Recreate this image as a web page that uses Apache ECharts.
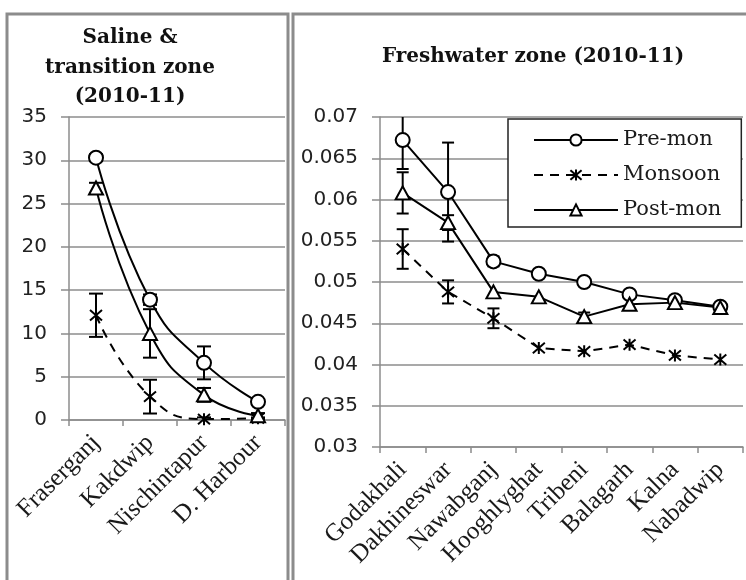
<!DOCTYPE html>
<html>
<head>
<meta charset="utf-8">
<script src="https://cdn.jsdelivr.net/npm/echarts@6/dist/echarts.min.js"></script>
<style>html,body{margin:0;padding:0;background:#fff;}#c{width:746px;height:580px;}</style>
</head>
<body>
<div id="c"></div>
<script>
// ---- data ----
var leftCats = ['Fraserganj', 'Kakdwip', 'Nischintapur', 'D. Harbour'];
var leftPre = [30.3, 13.9, 6.6, 2.1];
var leftPreErr = [0.4, 0.6, 1.9, 0.3];
var leftMon = [12.1, 2.7, 0.1, 0.2];
var leftMonErr = [2.5, 1.95, 0.2, 0.1];
var leftPost = [26.8, 10.0, 2.9, 0.5];
var leftPostErr = [0.6, 2.8, 0.8, 0.3];

var rightCats = ['Godakhali', 'Dakhineswar', 'Nawabganj', 'Hooghlyghat', 'Tribeni', 'Balagarh', 'Kalna', 'Nabadwip'];
var rightPre = [0.0672, 0.0609, 0.0525, 0.0510, 0.0500, 0.0485, 0.0478, 0.0470];
var rightPreErr = [0.0035, 0.006, 0.0006, 0, 0, 0, 0, 0];
var rightMon = [0.0540, 0.0488, 0.0456, 0.0420, 0.0416, 0.0424, 0.0411, 0.0406];
var rightMonErr = [0.0024, 0.0014, 0.0012, 0, 0, 0, 0, 0];
var rightPost = [0.0608, 0.0572, 0.0488, 0.0482, 0.0458, 0.0473, 0.0475, 0.0469];
var rightPostErr = [0.0025, 0.0009, 0, 0, 0.0005, 0, 0, 0];

var leftTicks = {min: 0, max: 35, interval: 5};
var rightTicks = {min: 0.03, max: 0.07, interval: 0.005};

var seriesNames = ['Pre-mon', 'Monsoon', 'Post-mon'];

// ---- styles ----
var gray = '#8c8c8c';
var starPath = 'path://M0 0 L12 12 M12 0 L0 12 M6 -1 L6 13';

function errData(vals, errs) {
  return vals.map(function (v, i) { return [i, v, errs[i]]; });
}

function errSeries(vals, errs, axisIdx, cap) {
  return {
    type: 'custom',
    xAxisIndex: axisIdx, yAxisIndex: axisIdx,
    z: 1,
    silent: true,
    data: errData(vals, errs),
    encode: {x: 0, y: 1},
    renderItem: function (params, api) {
      var i = api.value(0), v = api.value(1), e = api.value(2);
      if (!e) return null;
      var cs = params.coordSys;
      var hi = api.coord([i, v + e]);
      var lo = api.coord([i, v - e]);
      var top = Math.max(hi[1], cs.y);
      var bot = Math.min(lo[1], cs.y + cs.height);
      var x = hi[0];
      var children = [{
        type: 'line', shape: {x1: x, y1: top, x2: x, y2: bot},
        style: {stroke: '#000', lineWidth: 2}
      }];
      if (hi[1] >= cs.y) children.push({type: 'line', shape: {x1: x - cap, y1: hi[1], x2: x + cap, y2: hi[1]}, style: {stroke: '#000', lineWidth: 2}});
      if (lo[1] <= cs.y + cs.height) children.push({type: 'line', shape: {x1: x - cap, y1: lo[1], x2: x + cap, y2: lo[1]}, style: {stroke: '#000', lineWidth: 2}});
      return {type: 'group', children: children};
    }
  };
}

function lineSeries(name, vals, axisIdx, kind, smooth) {
  var s = {
    name: name, type: 'line', data: vals,
    xAxisIndex: axisIdx, yAxisIndex: axisIdx,
    z: 3, smooth: smooth, showSymbol: true,
    lineStyle: {color: '#000', width: 2, type: kind === 'mon' ? [9, 7] : 'solid'},
    itemStyle: {color: '#fff', borderColor: '#000', borderWidth: 2},
    symbolSize: 14, symbol: 'circle',
    emphasis: {disabled: true}
  };
  if (kind === 'pre') { s.symbol = 'circle'; s.symbolSize = 14; }
  if (kind === 'post') { s.symbol = 'triangle'; s.symbolSize = [14, 13]; }
  if (kind === 'mon') { s.symbol = starPath; s.symbolSize = 12; s.itemStyle = {color: '#000', borderColor: '#000', borderWidth: 2}; }
  return s;
}

function xAxisCfg(cats, gridIdx) {
  return {
    type: 'category', gridIndex: gridIdx, data: cats, boundaryGap: true,
    axisLine: {show: true, lineStyle: {color: gray, width: 1.5}},
    axisTick: {show: true, length: 6, lineStyle: {color: gray, width: 1.5}},
    axisLabel: {rotate: 45, margin: 19, interval: 0, color: '#1a1a1a',
      fontFamily: 'Liberation Serif', fontSize: 25},
    splitLine: {show: false}
  };
}

function yAxisCfg(t, gridIdx) {
  return {
    type: 'value', gridIndex: gridIdx, min: t.min, max: t.max, interval: t.interval,
    axisLine: {show: true, lineStyle: {color: gray, width: 1.5}},
    axisTick: {show: true, length: 8, lineStyle: {color: gray, width: 1.5}},
    axisLabel: {margin: 22, color: '#222', fontFamily: 'DejaVu Sans', fontSize: 20},
    splitLine: {show: true, lineStyle: {color: gray, width: 1.5}}
  };
}

var titleFont = 'bold 20px "DejaVu Serif"';

var chart = echarts.init(document.getElementById('c'), null, {renderer: 'canvas'});
chart.setOption({
  animation: false,
  backgroundColor: '#fff',
  grid: [
    {left: 69, top: 117, width: 216, height: 303},
    {left: 380, top: 117, width: 363, height: 330}
  ],
  xAxis: [xAxisCfg(leftCats, 0), xAxisCfg(rightCats, 1)],
  yAxis: [yAxisCfg(leftTicks, 0), yAxisCfg(rightTicks, 1)],
  legend: {
    data: seriesNames,
    orient: 'vertical',
    left: 508, top: 119,
    padding: [10, 20, 6, 25],
    itemWidth: 84, itemHeight: 14, itemGap: 13,
    backgroundColor: '#fff',
    borderColor: '#222', borderWidth: 1.5, borderRadius: 0,
    textStyle: {fontFamily: 'DejaVu Serif', fontSize: 21, color: '#1a1a1a', lineHeight: 22},
    selectedMode: false
  },
  graphic: [
    {type: 'rect', shape: {x: 7, y: 14, width: 281, height: 600}, style: {fill: 'none', stroke: gray, lineWidth: 3}, z: -10},
    {type: 'rect', shape: {x: 293, y: 14, width: 470, height: 600}, style: {fill: 'none', stroke: gray, lineWidth: 3}, z: -10},
    {type: 'text', x: 130, y: 38, style: {text: 'Saline &', align: 'center', verticalAlign: 'middle', font: titleFont, fill: '#111'}},
    {type: 'text', x: 130, y: 68, style: {text: 'transition zone', align: 'center', verticalAlign: 'middle', font: titleFont, fill: '#111'}},
    {type: 'text', x: 130, y: 97, style: {text: '(2010-11)', align: 'center', verticalAlign: 'middle', font: titleFont, fill: '#111'}},
    {type: 'text', x: 533, y: 57, style: {text: 'Freshwater zone (2010-11)', align: 'center', verticalAlign: 'middle', font: titleFont, fill: '#111'}}
  ],
  series: [
    errSeries(leftPre, leftPreErr, 0, 7),
    errSeries(leftMon, leftMonErr, 0, 7),
    errSeries(leftPost, leftPostErr, 0, 7),
    lineSeries('Pre-mon', leftPre, 0, 'pre', 0.5),
    lineSeries('Monsoon', leftMon, 0, 'mon', 0.5),
    lineSeries('Post-mon', leftPost, 0, 'post', 0.5),
    errSeries(rightPre, rightPreErr, 1, 6),
    errSeries(rightMon, rightMonErr, 1, 6),
    errSeries(rightPost, rightPostErr, 1, 6),
    lineSeries('Pre-mon', rightPre, 1, 'pre', false),
    lineSeries('Monsoon', rightMon, 1, 'mon', false),
    lineSeries('Post-mon', rightPost, 1, 'post', false)
  ]
});
</script>
</body>
</html>
